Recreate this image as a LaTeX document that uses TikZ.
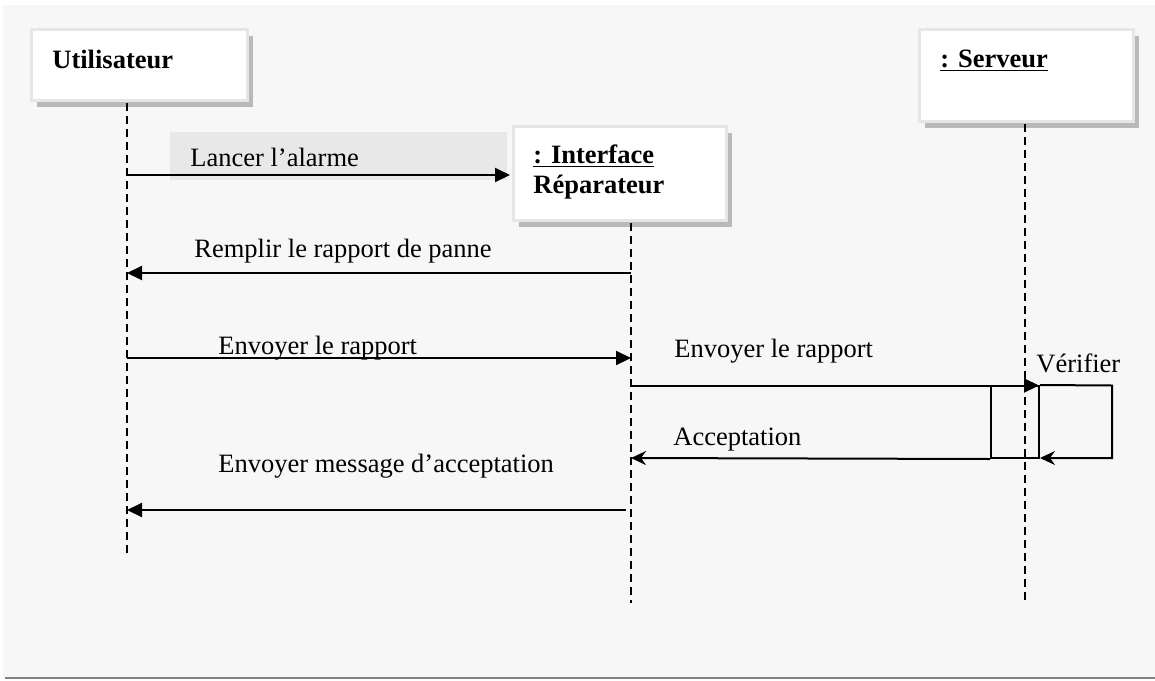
\documentclass[tikz,border=0pt]{standalone}
\usepackage{fontspec}
\setmainfont{Liberation Serif}
\usetikzlibrary{arrows.meta,shadows}
\definecolor{fond}{HTML}{F7F7F7}
\definecolor{cadre}{HTML}{E6E6E6}
\definecolor{surligne}{HTML}{E8E8E8}
\tikzset{
	objet/.style={draw=cadre,line width=1.5pt,fill=white,
		drop shadow={shadow xshift=2.8pt,shadow yshift=-3pt,fill=gray!55,opacity=1}},
	titre/.style={anchor=base west,inner sep=0pt,font=\fontsize{13.25}{16}\selectfont\bfseries},
	msg/.style={anchor=base west,inner sep=0pt},
	vie/.style={line width=1pt,dash pattern=on 4pt off 2.5pt},
	appel/.style={line width=1pt,->},
	retour/.style={line width=1pt,-{Stealth[length=7.5pt,width=7pt,inset=2.5pt]}}
}
\begin{document}
\begin{tikzpicture}[x=0.5pt,y=-0.5pt,>={Triangle[length=7.5pt,width=7pt]},
		font=\fontsize{13.25}{16}\selectfont]
			      \useasboundingbox (0,0) rectangle (1155,680);
			      \fill[fond] (3,5) rectangle (1155,677);
			      \draw[gray,line width=1pt] (5,678)--(1155,678);
			      % les trois objets
			      \node (util) at (139.5,65)[objet,minimum width=108pt,minimum height=35.5pt]{};
			      \node (iface) at (620,173.5)[objet,minimum width=106.5pt,minimum height=47pt]{};
			      \node (serv) at (1026.5,75.5)[objet,minimum width=107pt,minimum height=46pt]{};
			      \node (utilT) at (52,68)[titre]{Utilisateur};
			      \node (ifaceT) at (533,163)[titre]{\underline{: Interface}};
			      \node (ifaceR) at (533,193)[titre]{Réparateur};
			      \node (servT) at (940,67)[titre]{\underline{: Serveur}};
			      % lignes de vie
			      \coordinate (u0) at (127,103); \coordinate (u1) at (127,555);
			      \coordinate (i0) at (631,223); \coordinate (i1) at (631,603);
			      \coordinate (s0) at (1025,124); \coordinate (s1) at (1025,600);
			      \draw[vie] (u0)--(u1);
			      \draw[vie] (i0)--(i1);
			      \draw[vie] (s0)--(s1);
			      % Lancer l'alarme
			      \fill[surligne] (170,132) rectangle (507,180);
			      \coordinate (u-a) at (127,175); \coordinate (i-a) at (510,175);
			      \draw[appel] (u-a)--(i-a);
			      \node (lancer) at (190,166)[msg]{Lancer l’alarme};
			      % Remplir le rapport
			      \coordinate (i-r) at (631,273); \coordinate (u-r) at (127,273);
			      \draw[appel] (i-r)--(u-r);
			      \node (remplir) at (194,257)[msg]{Remplir le rapport de panne};
			      % Envoyer le rapport
			      \coordinate (u-e) at (127,358); \coordinate (i-e) at (631,358);
			      \draw[appel] (u-e)--(i-e);
			      \node (envoi1) at (218,354)[msg]{Envoyer le rapport};
			      \coordinate (i-e2) at (631,385.5); \coordinate (s-e2) at (1039,385.5);
			      \draw[appel] (i-e2)--(s-e2);
			      \node (envoi2) at (674,357)[msg]{Envoyer le rapport};
			      % activation du serveur et Vérifier
			      \node (act) at (1015,422)[draw,line width=1pt,minimum width=24pt,minimum height=36pt]{};
			      \coordinate (v0) at (1112,385.5); \coordinate (v1) at (1112,458); \coordinate (v2) at (1040,458);
			      \draw[retour] (act.north east)--(v0)--(v1)--(v2);
			      \node (verif) at (1036,372)[msg]{Vérifier};
			      % Acceptation
			      \coordinate (i-ac) at (631,458);
			      \draw[retour] (act.south west)--(i-ac);
			      \node (accept) at (673,445)[msg]{Acceptation};
			      % Envoyer message d'acceptation
			      \coordinate (i-m) at (626,510); \coordinate (u-m) at (127,510);
			      \draw[appel] (i-m)--(u-m);
			      \node (envoi3) at (218,472)[msg]{Envoyer message d’acceptation};
		      \end{tikzpicture}
\end{document}
